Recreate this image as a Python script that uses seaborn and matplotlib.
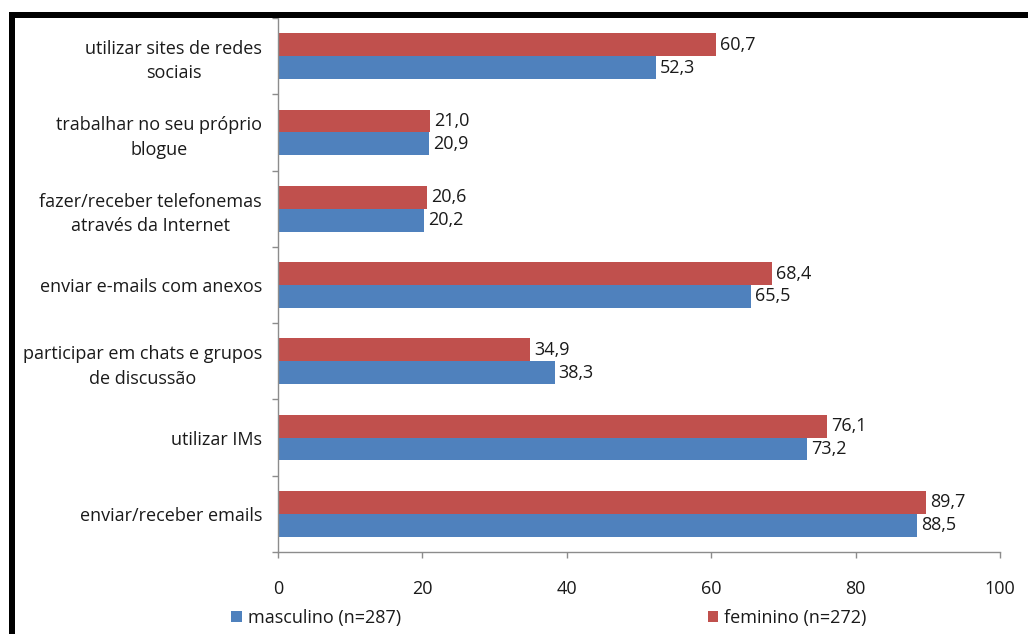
import matplotlib
matplotlib.use("Agg")
import matplotlib.pyplot as plt
from matplotlib.patches import Rectangle, Patch
import pandas as pd
import seaborn as sns

# Internet activities, share of respondents (%) by sex
categories = [
    "utilizar sites de redes\nsociais",
    "trabalhar no seu próprio\nblogue",
    "fazer/receber telefonemas\natravés da Internet",
    "enviar e-mails com anexos",
    "participar em chats e grupos\nde discussão",
    "utilizar IMs",
    "enviar/receber emails",
]
feminino = [60.7, 21.0, 20.6, 68.4, 34.9, 76.1, 89.7]
masculino = [52.3, 20.9, 20.2, 65.5, 38.3, 73.2, 88.5]

label_fem = "feminino (n=272)"
label_masc = "masculino (n=287)"
x_ticks = [0, 20, 40, 60, 80, 100]

df = pd.DataFrame({
    "atividade": categories * 2,
    "valor": feminino + masculino,
    "sexo": [label_fem] * len(categories) + [label_masc] * len(categories),
})

RED = "#C0504D"
BLUE = "#4F81BD"
TEXT = "#1a1a1a"
AXIS = "#8c8c8c"
FS = 13

sns.set_theme(style="white")
plt.rcParams["font.family"] = ["Open Sans", "DejaVu Sans"]

fig = plt.figure(figsize=(10.28, 6.34), dpi=100)
ax = fig.add_axes([278 / 1028, 1 - 552 / 634, 722 / 1028, (552 - 18) / 634])

sns.barplot(
    data=df, y="atividade", x="valor", hue="sexo",
    hue_order=[label_fem, label_masc], palette=[RED, BLUE],
    order=categories, orient="h", width=0.6, saturation=1,
    linewidth=0, legend=False, ax=ax,
)

for cont in ax.containers:
    ax.bar_label(
        cont, labels=[f"{v.get_width():.1f}".replace(".", ",") for v in cont],
        padding=3, fontsize=FS, color=TEXT,
    )

ax.set_xlim(0, 100)
ax.set_ylim(len(categories) - 0.5, -0.5)
ax.set_xticks(x_ticks)
ax.set_xticklabels([str(t) for t in x_ticks], fontsize=FS, color=TEXT)
ax.tick_params(axis="x", which="major", direction="out", length=4.5,
               width=1, color=AXIS, pad=16, bottom=True)

# category labels right-aligned as a block, lines centred within it;
# small ticks mark the boundaries between groups
ax.set_yticks(range(len(categories)))
ax.set_yticklabels(categories, fontsize=FS, color=TEXT, ha="right",
                   multialignment="center", linespacing=1.45)
ax.tick_params(axis="y", which="major", length=0, pad=11.5)
ax.set_yticks([i - 0.5 for i in range(len(categories) + 1)], minor=True)
ax.tick_params(axis="y", which="minor", direction="out", length=4,
               width=1, color=AXIS, left=True)

ax.set_xlabel("")
ax.set_ylabel("")
for side in ("top", "right"):
    ax.spines[side].set_visible(False)
for side in ("left", "bottom"):
    ax.spines[side].set_color(AXIS)
    ax.spines[side].set_linewidth(1)

handles = [Patch(facecolor=BLUE, edgecolor="none"),
           Patch(facecolor=RED, edgecolor="none")]
fig.legend(handles, [label_masc, label_fem], ncol=2, frameon=False,
           loc="center left", bbox_to_anchor=(215 / 1028, 1 - 618 / 634),
           fontsize=FS, handlelength=0.6, handleheight=0.6,
           handletextpad=0.3, columnspacing=17.0, labelcolor=TEXT)

# black frame edges along the top and the left side
fig.patches.append(Rectangle((9 / 1028, 1 - 18 / 634), 1 - 9 / 1028, 6 / 634,
                             transform=fig.transFigure, facecolor="black",
                             edgecolor="none", zorder=10))
fig.patches.append(Rectangle((9 / 1028, 0), 6 / 1028, 1 - 12 / 634,
                             transform=fig.transFigure, facecolor="black",
                             edgecolor="none", zorder=10))

fig.savefig("out.png", dpi=100)
